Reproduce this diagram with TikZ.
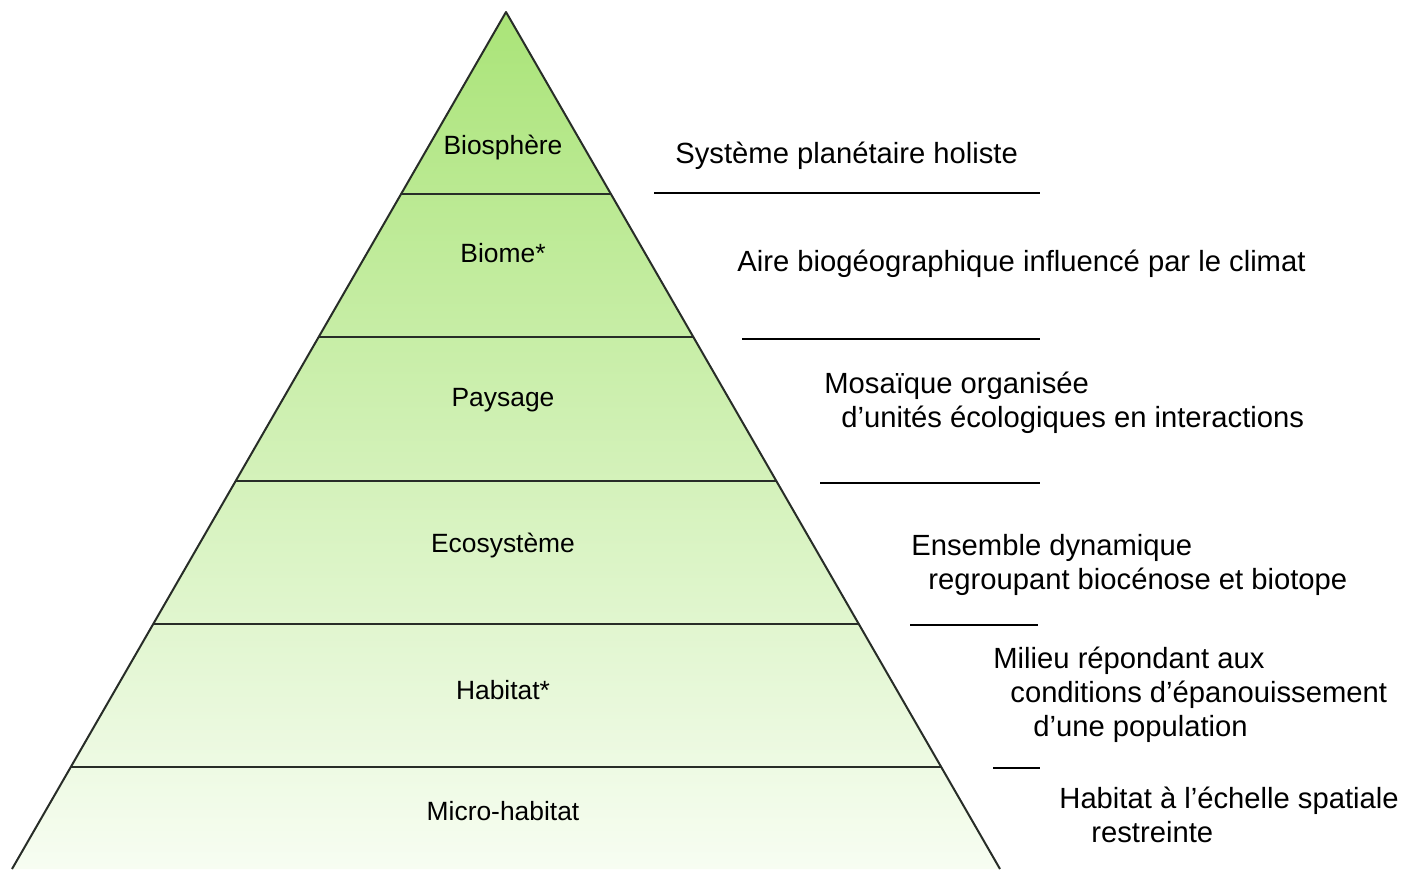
\documentclass[tikz,border=0pt]{standalone}
\usepackage{fontspec}
\setmainfont{Liberation Sans}
\usetikzlibrary{calc}
\definecolor{pyrtop}{RGB}{170, 228, 120}
\definecolor{pyrbot}{RGB}{247, 253, 242}
\definecolor{edgegray}{RGB}{40, 45, 40}

\begin{document}
\begin{tikzpicture}[x=0.5pt, y=-0.5pt,
    levelname/.style={anchor=base, inner sep=0pt, font=\fontsize{13.2}{16}\selectfont},
    desc/.style={anchor=base west, inner sep=0pt, font=\fontsize{14.6}{17}\selectfont},
    sepline/.style={black, line width=1pt}]
  \useasboundingbox (0,0) rectangle (1416,869);
  \clip (0,0) rectangle (1416,869);

  % Pyramid
  \coordinate (apex) at (506,12);
  \coordinate (baseL) at (12,869);
  \coordinate (baseR) at (1000,869);
  \shade[top color=pyrtop, bottom color=pyrbot] (apex) -- (baseL) -- (baseR) -- cycle;
  \draw[edgegray, line width=1pt, line join=round] (baseL) -- (apex) -- (baseR);

  % Layer boundaries
  \foreach \t in {0.2124, 0.3792, 0.5473, 0.7141, 0.8810}
    \draw[edgegray, line width=1pt] ($(apex)!\t!(baseL)$) -- ($(apex)!\t!(baseR)$);

  % Levels
  \node[levelname] (biosphere) at (503,154) {Biosphère};
  \node[levelname] (biome) at (503,262) {Biome*};
  \node[levelname] (paysage) at (503,406) {Paysage};
  \node[levelname] (ecosys) at (503,552) {Ecosystème};
  \node[levelname] (habitat) at (503,699) {Habitat*};
  \node[levelname] (micro) at (503,820) {Micro-habitat};

  % Descriptions
  \node[desc] (descbios) at (675,163) {Système planétaire holiste};
  \node[desc] (descbiome) at (737,271) {Aire biogéographique influencé par le climat};
  \node[desc] (descpays1) at (824,393) {Mosaïque organisée};
  \node[desc] (descpays2) at (841,427) {d’unités écologiques en interactions};
  \node[desc] (desceco1) at (911,555) {Ensemble dynamique};
  \node[desc] (desceco2) at (928,589) {regroupant biocénose et biotope};
  \node[desc] (deschab1) at (993,668) {Milieu répondant aux};
  \node[desc] (deschab2) at (1010,702) {conditions d’épanouissement};
  \node[desc] (deschab3) at (1033,736) {d’une population};
  \node[desc] (descmic1) at (1059,808) {Habitat à l’échelle spatiale};
  \node[desc] (descmic2) at (1091,842) {restreinte};

  % Separators
  \draw[sepline] (654,193) -- (1040,193);
  \draw[sepline] (742,339) -- (1040,339);
  \draw[sepline] (820,483) -- (1040,483);
  \draw[sepline] (910,625) -- (1038,625);
  \draw[sepline] (993,768) -- (1040,768);
\end{tikzpicture}
\end{document}
